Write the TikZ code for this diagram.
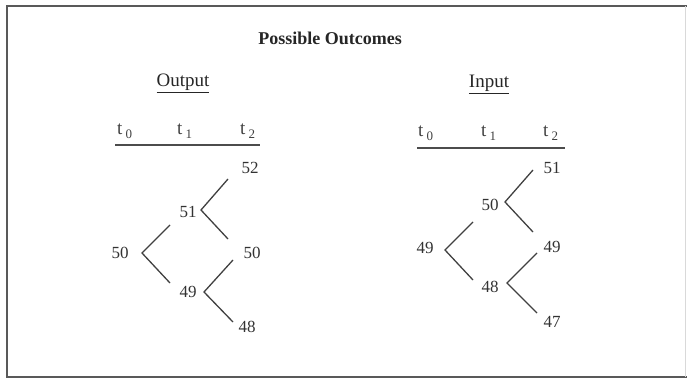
\documentclass[tikz,border=0pt]{standalone}
\usepackage{fontspec}
\setmainfont{Liberation Serif}

\newcommand{\tsub}[1]{t\,\raisebox{-0.4ex}{\fontsize{13}{13}\selectfont #1}}

\tikzset{
  numero/.style={font=\fontsize{17}{17}\selectfont, text=black!80, inner sep=1pt},
  tiempo/.style={font=\fontsize{19}{19}\selectfont, text=black!75, anchor=base west, inner sep=0pt},
  titulo/.style={font=\fontsize{17}{17}\selectfont, text=black!85, anchor=base, inner sep=0pt},
  rama/.style={line width=1.3pt, draw=black!75},
  eje/.style={line width=1.6pt, draw=black!70}
}

\begin{document}
\begin{tikzpicture}[x=1pt, y=-1pt]

    \useasboundingbox (0, 0) rectangle (687, 379);

    % Marco
    \draw[line width=1.6pt, black!65] (687, 6) -- (7, 6) -- (7, 377) -- (687, 377);
    \draw[line width=0.8pt, black!15] (685, 6) -- (685, 377);

    % Titulos
    \node[titulo, font=\fontsize{18}{18}\selectfont\bfseries] (titulo) at (330, 45) {Possible Outcomes};
    \node[titulo, font=\fontsize{19}{19}\selectfont] (output) at (183, 87) {\underline{Output}};
    \node[titulo, font=\fontsize{19}{19}\selectfont] (input) at (489, 88) {\underline{Input}};

    % Ejes de tiempo (Output)
    \node[tiempo] (lt0) at (117, 135) {\tsub{0}};
    \node[tiempo] (lt1) at (177, 135) {\tsub{1}};
    \node[tiempo] (lt2) at (240, 135) {\tsub{2}};
    \coordinate (la) at (115, 145);
    \coordinate (lb) at (260, 145);
    \draw[eje] (la) -- (lb);

    % Ejes de tiempo (Input)
    \node[tiempo] (rt0) at (418, 137) {\tsub{0}};
    \node[tiempo] (rt1) at (481, 137) {\tsub{1}};
    \node[tiempo] (rt2) at (543, 137) {\tsub{2}};
    \coordinate (ra) at (417, 148);
    \coordinate (rb) at (565, 148);
    \draw[eje] (ra) -- (rb);

    % Arbol (Output)
    \node[numero] (o50) at (120, 253) {50};
    \node[numero] (o51) at (188, 212) {51};
    \node[numero] (o49) at (188, 292) {49};
    \node[numero] (o52) at (250, 168) {52};
    \node[numero] (o50b) at (252, 253) {50};
    \node[numero] (o48) at (247, 327) {48};

    \coordinate (ov0) at (142, 253);
    \coordinate (ov0a) at (170, 225);
    \coordinate (ov0b) at (170, 283);
    \coordinate (ov1) at (201, 210);
    \coordinate (ov1a) at (228, 179);
    \coordinate (ov1b) at (228, 239);
    \coordinate (ov2) at (204, 292);
    \coordinate (ov2a) at (233, 260);
    \coordinate (ov2b) at (233, 322);
    \draw[rama] (ov0a) -- (ov0) -- (ov0b);
    \draw[rama] (ov1a) -- (ov1) -- (ov1b);
    \draw[rama] (ov2a) -- (ov2) -- (ov2b);

    % Arbol (Input)
    \node[numero] (i49) at (425, 248) {49};
    \node[numero] (i50) at (490, 205) {50};
    \node[numero] (i48) at (490, 287) {48};
    \node[numero] (i51) at (552, 168) {51};
    \node[numero] (i49b) at (552, 247) {49};
    \node[numero] (i47) at (552, 322) {47};

    \coordinate (iv0) at (445, 250);
    \coordinate (iv0a) at (473, 222);
    \coordinate (iv0b) at (473, 280);
    \coordinate (iv1) at (505, 202);
    \coordinate (iv1a) at (533, 170);
    \coordinate (iv1b) at (533, 232);
    \coordinate (iv2) at (507, 283);
    \coordinate (iv2a) at (537, 253);
    \coordinate (iv2b) at (537, 313);
    \draw[rama] (iv0a) -- (iv0) -- (iv0b);
    \draw[rama] (iv1a) -- (iv1) -- (iv1b);
    \draw[rama] (iv2a) -- (iv2) -- (iv2b);

\end{tikzpicture}
\end{document}
